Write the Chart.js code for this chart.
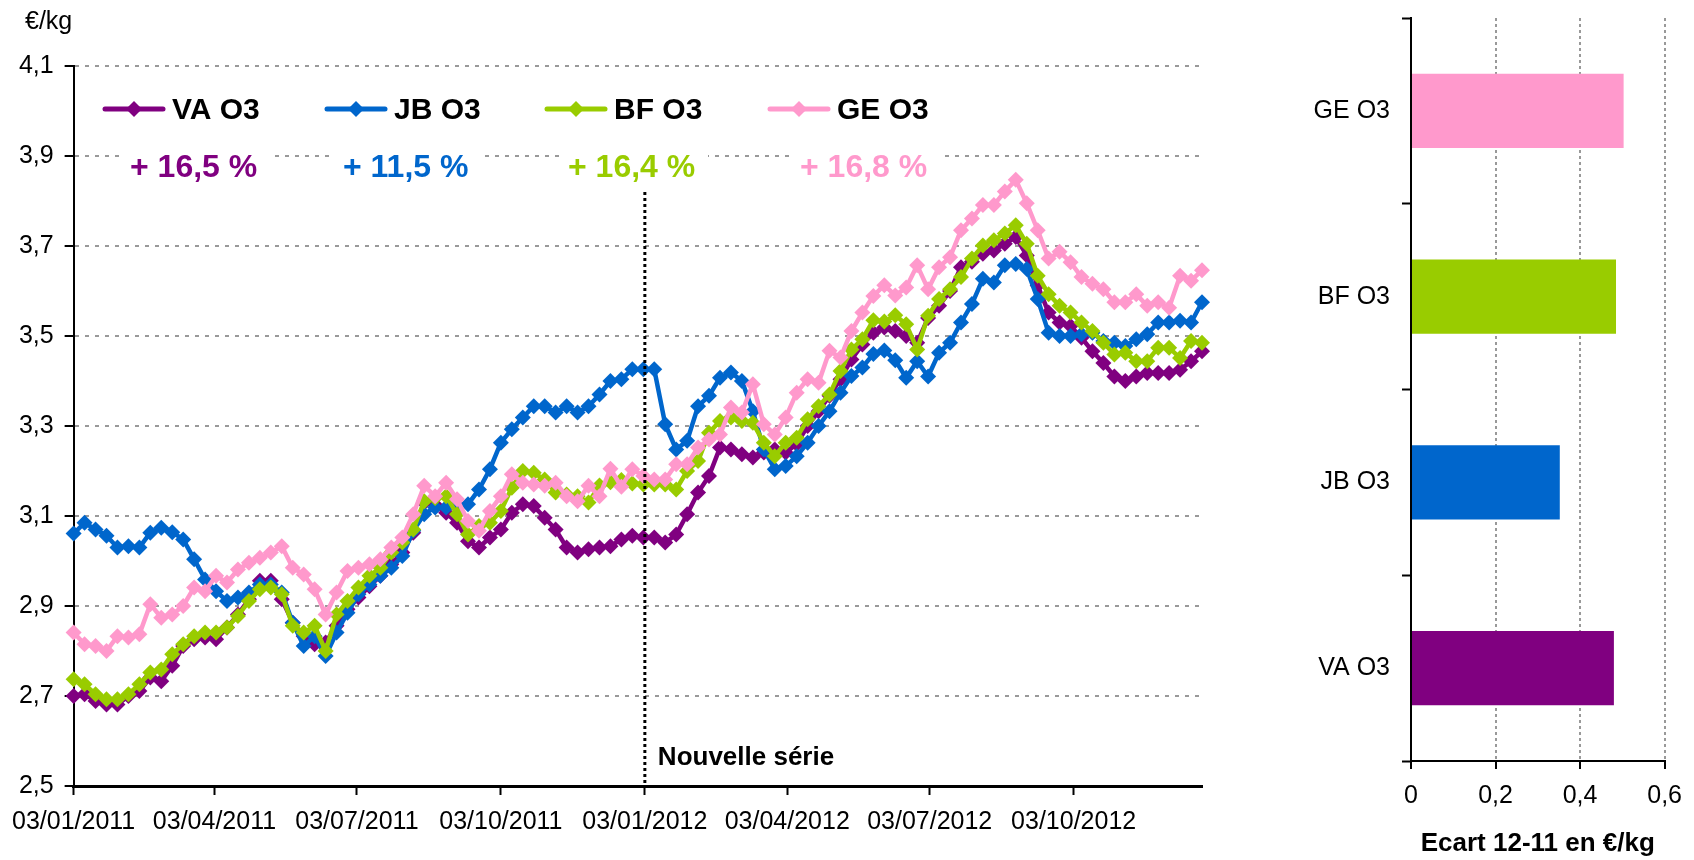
<!DOCTYPE html>
<html>
<head>
<meta charset="utf-8">
<script src="https://cdn.jsdelivr.net/npm/chart.js@4.4.1/dist/chart.umd.min.js"></script>
<style>
  html, body { margin: 0; padding: 0; background: #fff; }
  #left { position: absolute; left: 0; top: 0; width: 1230px; height: 860px; }
  #right { position: absolute; left: 1230px; top: 0; width: 464px; height: 860px; }
</style>
</head>
<body>
<div id="left"><canvas id="chart-1"></canvas></div>
<div id="right"><canvas id="chart-2"></canvas></div>
<script>
// weekly prices, from 03/01/2011 (one value per week)
const SERIES_NAMES = ["VA O3", "JB O3", "BF O3", "GE O3"];
const SERIES_CHANGE = ["+ 16,5 %", "+ 11,5 %", "+ 16,4 %", "+ 16,8 %"];
const SERIES_COLORS = ["#800080", "#0066CC", "#99CC00", "#FF99CC"];

const VA_O3 = [2.700, 2.704, 2.689, 2.681, 2.681, 2.700, 2.711, 2.741, 2.733, 2.767,
  2.811, 2.826, 2.830, 2.826, 2.852, 2.881, 2.915, 2.956, 2.956, 2.915,
  2.863, 2.833, 2.815, 2.819, 2.856, 2.893, 2.919, 2.944, 2.967, 2.993,
  3.019, 3.063, 3.130, 3.125, 3.107, 3.085, 3.044, 3.030, 3.052, 3.070,
  3.107, 3.126, 3.122, 3.096, 3.070, 3.030, 3.019, 3.026, 3.030, 3.033,
  3.048, 3.056, 3.052, 3.052, 3.041, 3.059, 3.104, 3.152, 3.189, 3.252,
  3.248, 3.237, 3.230, 3.241, 3.248, 3.241, 3.260, 3.300, 3.333, 3.367,
  3.404, 3.448, 3.481, 3.507, 3.519, 3.511, 3.500, 3.485, 3.540, 3.567,
  3.600, 3.653, 3.665, 3.683, 3.690, 3.705, 3.720, 3.679, 3.612, 3.552,
  3.530, 3.522, 3.496, 3.466, 3.440, 3.410, 3.400, 3.410, 3.418, 3.418,
  3.418, 3.425, 3.444, 3.466];

const JB_O3 = [3.061, 3.085, 3.070, 3.056, 3.030, 3.033, 3.030, 3.063, 3.074, 3.064,
  3.048, 3.004, 2.959, 2.933, 2.911, 2.919, 2.930, 2.948, 2.948, 2.930,
  2.863, 2.811, 2.833, 2.789, 2.841, 2.885, 2.926, 2.948, 2.967, 2.985,
  3.011, 3.067, 3.104, 3.119, 3.119, 3.124, 3.126, 3.159, 3.204, 3.263,
  3.293, 3.319, 3.344, 3.344, 3.330, 3.344, 3.330, 3.344, 3.370, 3.400,
  3.404, 3.426, 3.426, 3.426, 3.304, 3.248, 3.267, 3.344, 3.367, 3.407,
  3.419, 3.400, 3.333, 3.248, 3.204, 3.211, 3.233, 3.263, 3.300, 3.333,
  3.374, 3.411, 3.430, 3.460, 3.468, 3.446, 3.407, 3.444, 3.410, 3.463,
  3.485, 3.530, 3.571, 3.627, 3.619, 3.657, 3.660, 3.649, 3.582, 3.507,
  3.500, 3.500, 3.504, 3.507, 3.489, 3.485, 3.478, 3.493, 3.504, 3.530,
  3.530, 3.534, 3.530, 3.575];

const BF_O3 = [2.737, 2.726, 2.704, 2.693, 2.693, 2.704, 2.726, 2.752, 2.759, 2.793,
  2.815, 2.833, 2.841, 2.841, 2.852, 2.878, 2.911, 2.937, 2.941, 2.926,
  2.856, 2.841, 2.856, 2.800, 2.881, 2.911, 2.941, 2.967, 2.985, 3.019,
  3.041, 3.070, 3.133, 3.140, 3.144, 3.104, 3.059, 3.078, 3.085, 3.111,
  3.163, 3.200, 3.196, 3.181, 3.152, 3.148, 3.144, 3.130, 3.168, 3.175,
  3.180, 3.172, 3.170, 3.170, 3.170, 3.159, 3.200, 3.222, 3.285, 3.311,
  3.319, 3.311, 3.307, 3.263, 3.233, 3.263, 3.274, 3.315, 3.344, 3.370,
  3.422, 3.470, 3.493, 3.535, 3.532, 3.546, 3.526, 3.470, 3.545, 3.582,
  3.604, 3.631, 3.672, 3.701, 3.713, 3.728, 3.746, 3.705, 3.634, 3.593,
  3.567, 3.552, 3.530, 3.511, 3.485, 3.459, 3.463, 3.444, 3.444, 3.474,
  3.474, 3.451, 3.489, 3.485];

const GE_O3 = [2.841, 2.815, 2.811, 2.800, 2.833, 2.830, 2.837, 2.904, 2.874, 2.881,
  2.900, 2.941, 2.933, 2.967, 2.952, 2.981, 2.996, 3.007, 3.019, 3.033,
  2.985, 2.970, 2.937, 2.881, 2.930, 2.978, 2.985, 2.993, 3.004, 3.030,
  3.052, 3.104, 3.167, 3.144, 3.174, 3.137, 3.089, 3.067, 3.111, 3.144,
  3.193, 3.174, 3.170, 3.167, 3.174, 3.144, 3.133, 3.167, 3.144, 3.205,
  3.165, 3.204, 3.189, 3.181, 3.181, 3.215, 3.215, 3.252, 3.270, 3.281,
  3.341, 3.330, 3.393, 3.304, 3.281, 3.319, 3.374, 3.404, 3.396, 3.467,
  3.452, 3.511, 3.552, 3.589, 3.613, 3.590, 3.608, 3.657, 3.604, 3.653,
  3.675, 3.735, 3.761, 3.791, 3.791, 3.821, 3.847, 3.795, 3.735, 3.672,
  3.687, 3.664, 3.631, 3.616, 3.604, 3.575, 3.575, 3.593, 3.567, 3.575,
  3.563, 3.634, 3.623, 3.646];

// x axis is in days since 03/01/2011
const X_TICK_DAYS = [0, 90, 181, 273, 365, 456, 547, 639];
const X_TICK_LABELS = ["03/01/2011", "03/04/2011", "03/07/2011", "03/10/2011",
  "03/01/2012", "03/04/2012", "03/07/2012", "03/10/2012"];
const LAST_DAY = 721;
const NEW_SERIES_DAY = 365;
const Y_TICKS = [2.5, 2.7, 2.9, 3.1, 3.3, 3.5, 3.7, 3.9, 4.1];

// right chart
const BAR_CATEGORIES = ["GE O3", "BF O3", "JB O3", "VA O3"];
const BAR_VALUES = [0.503, 0.485, 0.352, 0.480];
const BAR_COLORS = ["#FF99CC", "#99CC00", "#0066CC", "#800080"];
const BAR_TICKS = [0, 0.2, 0.4, 0.6];

const FONT = '"Liberation Sans", Arial, sans-serif';
Chart.defaults.font.family = FONT;
Chart.defaults.color = "#000";

const comma = (v) => String(+v.toFixed(1)).replace(".", ",");

function lineDataset(name, values, color, order) {
  return {
    label: name,
    data: values.map((v, i) => ({ x: i * 7, y: v })),
    borderColor: color,
    backgroundColor: color,
    pointBackgroundColor: color,
    borderWidth: 4.5,
    pointStyle: "rectRot",
    pointRadius: 8,
    pointBorderWidth: 0,
    tension: 0,
    clip: false,
    order: order,
  };
}

// legend, percentages, "Nouvelle série" marker
const overlay = {
  id: "overlay",
  afterDatasetsDraw(chart) {
    const { ctx, scales: { x, y } } = chart;
    const px = x.getPixelForValue(NEW_SERIES_DAY);
    ctx.save();
    ctx.strokeStyle = "#000";
    ctx.lineWidth = 3;
    ctx.setLineDash([3, 3]);
    ctx.beginPath();
    ctx.moveTo(px, y.getPixelForValue(3.82));
    ctx.lineTo(px, y.bottom);
    ctx.stroke();
    ctx.setLineDash([]);
    ctx.fillStyle = "#000";
    ctx.font = "bold 26px " + FONT;
    ctx.textBaseline = "alphabetic";
    ctx.fillText("Nouvelle série", px + 13, 765);
    ctx.restore();
  },
  afterDraw(chart) {
    const ctx = chart.ctx;
    const legX = [105, 327, 547, 770];
    const pctX = [130, 343, 568, 800];
    const legY = 109;
    ctx.save();
    ctx.font = "25px " + FONT;
    ctx.fillStyle = "#000";
    ctx.textBaseline = "middle";
    ctx.fillText("€/kg", 25, 22);

    SERIES_NAMES.forEach((name, i) => {
      const c = SERIES_COLORS[i];
      const x0 = legX[i];
      ctx.strokeStyle = c;
      ctx.lineWidth = 5;
      ctx.lineCap = "round";
      ctx.beginPath();
      ctx.moveTo(x0, legY);
      ctx.lineTo(x0 + 58, legY);
      ctx.stroke();
      ctx.fillStyle = c;
      ctx.beginPath();
      ctx.moveTo(x0 + 21, legY);
      ctx.lineTo(x0 + 29, legY - 8);
      ctx.lineTo(x0 + 37, legY);
      ctx.lineTo(x0 + 29, legY + 8);
      ctx.closePath();
      ctx.fill();
      ctx.fillStyle = "#000";
      ctx.font = "bold 30px " + FONT;
      ctx.fillText(name, x0 + 67, legY + 2);

      ctx.font = "bold 32px " + FONT;
      ctx.fillStyle = "#fff";
      ctx.fillRect(pctX[i] - 8, 148, 148, 38);
      ctx.fillStyle = c;
      ctx.fillText(SERIES_CHANGE[i], pctX[i], 168);
    });
    ctx.restore();
  },
};

const ctx1 = document.getElementById("chart-1").getContext("2d");
const lineChart = new Chart(ctx1, {
  type: "line",
  data: {
    datasets: [
      lineDataset(SERIES_NAMES[0], VA_O3, SERIES_COLORS[0], 4),
      lineDataset(SERIES_NAMES[1], JB_O3, SERIES_COLORS[1], 3),
      lineDataset(SERIES_NAMES[2], BF_O3, SERIES_COLORS[2], 2),
      lineDataset(SERIES_NAMES[3], GE_O3, SERIES_COLORS[3], 1),
    ],
  },
  options: {
    responsive: true,
    maintainAspectRatio: false,
    animation: false,
    layout: { padding: { top: 66, right: 28, left: 0, bottom: 0 } },
    plugins: { legend: { display: false }, tooltip: { enabled: false } },
    scales: {
      x: {
        type: "linear",
        min: 0,
        max: LAST_DAY,
        afterBuildTicks: (s) => { s.ticks = X_TICK_DAYS.map((v) => ({ value: v })); },
        afterFit: (s) => { s.height = 74; },
        ticks: {
          autoSkip: false,
          maxRotation: 0,
          padding: 12,
          font: { size: 25 },
          callback: (v, i) => X_TICK_LABELS[i],
        },
        grid: { drawOnChartArea: false, tickColor: "#000", tickWidth: 2, tickLength: 9, tickBorderDash: [] },
        border: { color: "#000", width: 3 },
      },
      y: {
        min: 2.5,
        max: 4.1,
        afterBuildTicks: (s) => { s.ticks = Y_TICKS.map((v) => ({ value: v })); },
        afterFit: (s) => { s.width = 73; },
        ticks: { padding: 11, font: { size: 25 }, callback: (v) => comma(v) },
        grid: { color: "#999", lineWidth: 2, tickColor: "#000", tickWidth: 2, tickLength: 9, tickBorderDash: [] },
        border: { color: "#000", width: 2, dash: [4, 6] },
      },
    },
  },
  plugins: [overlay],
});

const ctx2 = document.getElementById("chart-2").getContext("2d");
const barChart = new Chart(ctx2, {
  type: "bar",
  data: {
    labels: BAR_CATEGORIES,
    datasets: [
      {
        label: "Ecart 12-11",
        data: BAR_VALUES,
        backgroundColor: BAR_COLORS,
        barPercentage: 0.4,
        categoryPercentage: 1,
      },
    ],
  },
  options: {
    indexAxis: "y",
    responsive: true,
    maintainAspectRatio: false,
    animation: false,
    layout: { padding: { top: 18, right: 29, left: 0, bottom: 0 } },
    plugins: { legend: { display: false }, tooltip: { enabled: false } },
    scales: {
      x: {
        min: 0,
        max: 0.6,
        afterBuildTicks: (s) => { s.ticks = BAR_TICKS.map((v) => ({ value: v })); },
        afterFit: (s) => { s.height = 99; },
        ticks: { padding: 12, font: { size: 25 }, callback: (v) => (v === 0 ? "0" : comma(v)) },
        grid: { color: "#999", lineWidth: 2, tickColor: "#000", tickWidth: 2, tickLength: 8, tickBorderDash: [] },
        border: { color: "#000", width: 2, dash: [3, 3] },
        title: {
          display: true,
          text: "Ecart 12-11 en €/kg",
          font: { size: 26, weight: "bold" },
          padding: { top: 0, bottom: 1 },
        },
      },
      y: {
        afterFit: (s) => { s.width = 181; s.paddingTop = 0; s.paddingBottom = 0; },
        ticks: { padding: 12, font: { size: 25 } },
        grid: { offset: true, drawOnChartArea: false, tickColor: "#000", tickWidth: 2, tickLength: 9, tickBorderDash: [] },
        border: { color: "#000", width: 2 },
      },
    },
  },
});
</script>
</body>
</html>
